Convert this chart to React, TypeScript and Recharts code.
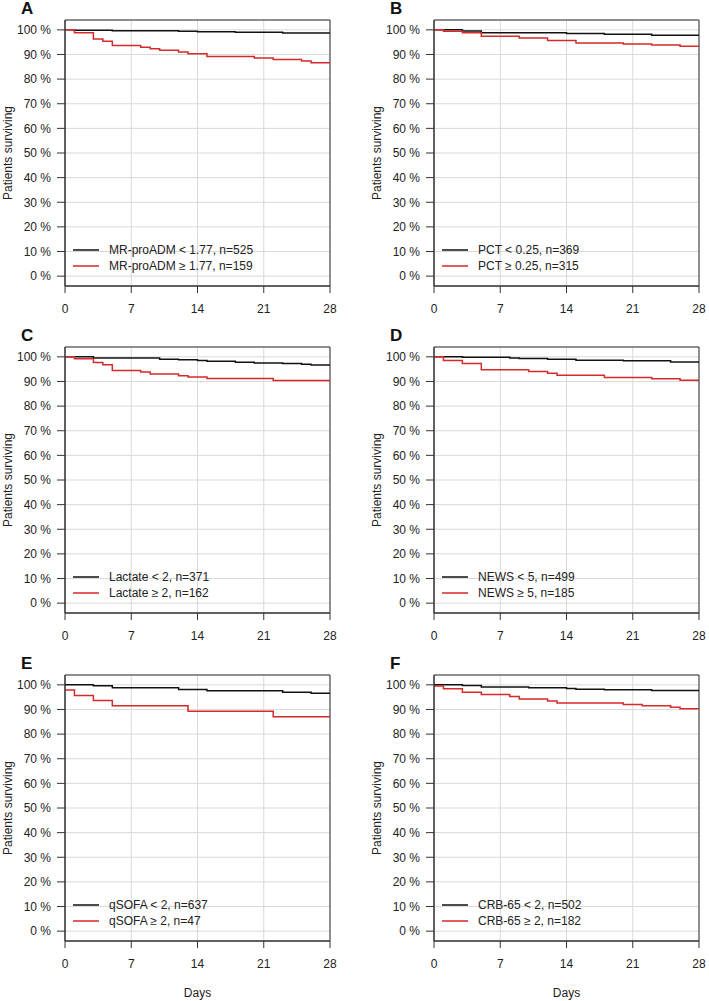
import React from "react"
import { CartesianGrid, Legend, Line, LineChart, ReferenceArea, XAxis, YAxis } from "recharts"

// Kaplan-Meier curves, survival in %, event days
const daysA_low = [0, 1, 5, 12, 14, 18, 23, 28]
const survA_low = [100, 99.8, 99.6, 99.4, 99.2, 99.0, 98.7, 98.7]
const daysA_high = [0, 1, 3, 4, 5, 8, 9, 10, 12, 13, 15, 20, 22, 25, 26, 28]
const survA_high = [100, 98.8, 96.3, 95.4, 93.6, 92.9, 92.3, 91.7, 91.0, 90.3, 89.2, 88.6, 88.0, 87.4, 86.6, 86.6]

const daysB_low = [0, 3, 5, 14, 18, 23, 28]
const survB_low = [100, 99.5, 98.8, 98.5, 98.2, 97.8, 97.8]
const daysB_high = [0, 1, 3, 5, 9, 12, 15, 20, 23, 26, 28]
const survB_high = [100, 99.4, 98.8, 97.4, 96.7, 95.7, 94.7, 94.3, 93.9, 93.3, 93.3]

const daysC_low = [0, 3, 10, 12, 14, 15, 18, 20, 23, 25, 26, 28]
const survC_low = [100, 99.5, 99.0, 98.8, 98.5, 98.2, 97.8, 97.5, 97.3, 97.0, 96.7, 96.7]
const daysC_high = [0, 1, 3, 4, 5, 8, 9, 12, 13, 15, 22, 28]
const survC_high = [100, 99.2, 97.7, 96.8, 94.5, 93.8, 93.0, 92.3, 91.8, 91.2, 90.4, 90.4]

const daysD_low = [0, 3, 8, 9, 12, 15, 20, 25, 28]
const survD_low = [100, 99.8, 99.5, 99.3, 99.0, 98.6, 98.4, 97.9, 97.9]
const daysD_high = [0, 1, 3, 5, 10, 12, 13, 18, 23, 26, 28]
const survD_high = [100, 98.5, 97.3, 94.8, 94.1, 93.3, 92.5, 91.6, 91.1, 90.5, 90.5]

const daysE_low = [0, 3, 5, 12, 15, 23, 26, 28]
const survE_low = [100, 99.6, 98.8, 98.1, 97.6, 97.0, 96.6, 96.6]
const daysE_high = [0, 1, 3, 5, 13, 22, 28]
const survE_high = [97.9, 95.7, 93.6, 91.5, 89.3, 87.0, 87.0]

const daysF_low = [0, 3, 5, 10, 14, 15, 18, 23, 28]
const survF_low = [100, 99.7, 99.1, 98.8, 98.5, 98.2, 98.0, 97.7, 97.7]
const daysF_high = [0, 1, 3, 5, 8, 9, 12, 13, 20, 22, 25, 26, 28]
const survF_high = [99.5, 98.4, 97.0, 96.1, 95.3, 94.3, 93.4, 92.6, 92.0, 91.5, 90.9, 90.3, 90.3]

const xTicks = [0, 7, 14, 21, 28]
const yTicks = [0, 10, 20, 30, 40, 50, 60, 70, 80, 90, 100]

const FONT = "'Liberation Sans', Arial, Helvetica, sans-serif"
const RED = "#d42a2a"
const BOX = "#333"

const toSeries = (days: number[], surv: number[]) => days.map((d, i) => ({ day: d, s: surv[i] }))

function KMLegend({ payload }: any) {
    return (
        <div style={{ fontFamily: FONT, fontSize: 12, color: "#222" }}>
            {(payload || []).map((p: any, i: number) => (
                <div key={i} style={{ display: "flex", alignItems: "center", height: 16 }}>
                    <svg width={26} height={4} style={{ marginRight: 10 }}>
                        <line x1={0} y1={2} x2={26} y2={2} stroke={p.color} strokeWidth={1.5} />
                    </svg>
                    <span>{p.value}</span>
                </div>
            ))}
        </div>
    )
}

type PanelProps = {
    letter: string
    left: number
    top: number
    width: number
    marginRight: number
    low: { day: number; s: number }[]
    high: { day: number; s: number }[]
    lowName: string
    highName: string
    showDays?: boolean
}

function Panel({ letter, left, top, width, marginRight, low, high, lowName, highName, showDays }: PanelProps) {
    const height = showDays ? 346 : 330
    const axisH = showDays ? 60 : 30
    return (
        <div style={{ position: "absolute", left, top, width, height }}>
            <div style={{ position: "absolute", left: 21, top: 0, fontFamily: FONT, fontSize: 17, fontWeight: "bold", lineHeight: "17px", color: "#111" }}>
                {letter}
            </div>
            <LineChart width={width} height={height} margin={{ top: 20, right: marginRight, left: 0, bottom: height - 286 - axisH }} style={{ fontFamily: FONT }}>
                <CartesianGrid stroke="#d9d9d9" />
                <XAxis
                    dataKey="day"
                    type="number"
                    domain={[0, 28]}
                    ticks={xTicks}
                    allowDataOverflow
                    height={axisH}
                    tickSize={7}
                    tickMargin={11}
                    stroke={BOX}
                    tick={{ fill: "#222", fontSize: 12 }}
                    label={showDays ? { value: "Days", position: "insideBottom", offset: 4, fill: "#222", fontSize: 12 } : undefined}
                />
                <YAxis
                    type="number"
                    domain={[-4, 104]}
                    ticks={yTicks}
                    allowDataOverflow
                    width={65}
                    tickSize={8}
                    tickMargin={6}
                    stroke={BOX}
                    tick={{ fill: "#222", fontSize: 12 }}
                    tickFormatter={(v: number) => `${v} %`}
                    label={{ value: "Patients surviving", angle: -90, position: "insideLeft", offset: 8, fill: "#222", fontSize: 12, style: { textAnchor: "middle" } }}
                />
                <Line data={low} dataKey="s" name={lowName} type="stepAfter" stroke="#111" strokeWidth={1.5} dot={false} isAnimationActive={false} />
                <Line data={high} dataKey="s" name={highName} type="stepAfter" stroke={RED} strokeWidth={1.5} dot={false} isAnimationActive={false} />
                <ReferenceArea x1={0} x2={28} y1={-4} y2={104} fill="none" stroke={BOX} strokeWidth={1} />
                <Legend layout="vertical" align="center" verticalAlign="middle" content={<KMLegend />} wrapperStyle={{ left: 73, top: 242, width: 260 }} />
            </LineChart>
        </div>
    )
}

export default function App() {
    return (
        <div style={{ position: "absolute", left: 0, top: 0, width: 709, height: 1001, background: "#fff" }}>
            <Panel letter="A" left={0} top={0} width={354} marginRight={24}
                low={toSeries(daysA_low, survA_low)} high={toSeries(daysA_high, survA_high)}
                lowName="MR-proADM < 1.77, n=525" highName="MR-proADM ≥ 1.77, n=159" />
            <Panel letter="B" left={369} top={0} width={340} marginRight={10}
                low={toSeries(daysB_low, survB_low)} high={toSeries(daysB_high, survB_high)}
                lowName="PCT < 0.25, n=369" highName="PCT ≥ 0.25, n=315" />
            <Panel letter="C" left={0} top={327} width={354} marginRight={24}
                low={toSeries(daysC_low, survC_low)} high={toSeries(daysC_high, survC_high)}
                lowName="Lactate < 2, n=371" highName="Lactate ≥ 2, n=162" />
            <Panel letter="D" left={369} top={327} width={340} marginRight={10}
                low={toSeries(daysD_low, survD_low)} high={toSeries(daysD_high, survD_high)}
                lowName="NEWS < 5, n=499" highName="NEWS ≥ 5, n=185" />
            <Panel letter="E" left={0} top={655} width={354} marginRight={24}
                low={toSeries(daysE_low, survE_low)} high={toSeries(daysE_high, survE_high)}
                lowName="qSOFA < 2, n=637" highName="qSOFA ≥ 2, n=47" showDays />
            <Panel letter="F" left={369} top={655} width={340} marginRight={10}
                low={toSeries(daysF_low, survF_low)} high={toSeries(daysF_high, survF_high)}
                lowName="CRB-65 < 2, n=502" highName="CRB-65 ≥ 2, n=182" showDays />
        </div>
    )
}
